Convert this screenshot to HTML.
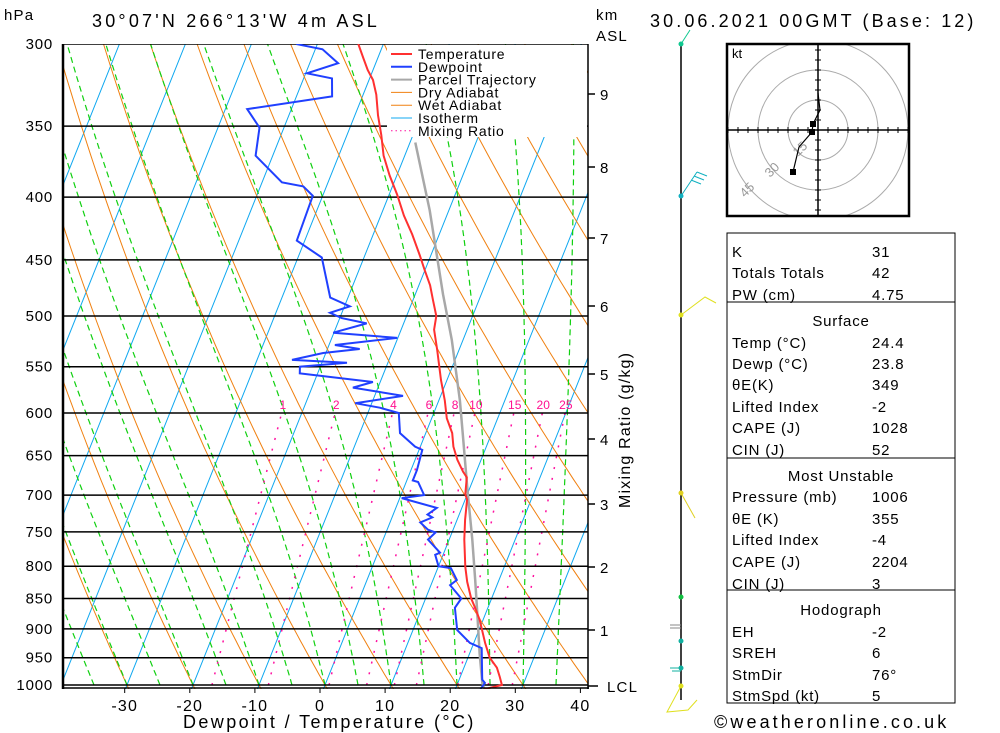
<!DOCTYPE html>
<html><head><meta charset="utf-8"><style>
body{margin:0;background:#fff;}
svg{display:block;font-family:"Liberation Sans",sans-serif;}
.t{font-size:15px;letter-spacing:0.8px;fill:#000;}
.h{font-size:18px;letter-spacing:1.2px;fill:#000;}
</style></head><body>
<svg id="chart" width="1000" height="733" viewBox="0 0 1000 733">
<defs><clipPath id="plotclip"><rect x="63" y="44" width="525" height="645"/></clipPath>
<clipPath id="hodoclip"><rect x="727" y="44" width="182" height="172"/></clipPath></defs>
<g id="bg" clip-path="url(#plotclip)"></g>
<g id="series" clip-path="url(#plotclip)"></g>
<g id="axes"></g>
<text class="h" x="4" y="20" style="font-size:15px">hPa</text>
<text class="h" x="92" y="27" style="letter-spacing:3.2px">30°07'N 266°13'W 4m ASL</text>
<text class="h" x="596" y="20" style="font-size:15px">km</text>
<text class="h" x="596" y="41" style="font-size:15px">ASL</text>
<text class="h" x="650" y="27" style="letter-spacing:3.1px">30.06.2021 00GMT (Base: 12)</text>
<text class="h" x="183" y="728" style="letter-spacing:2.4px">Dewpoint / Temperature (°C)</text>
<text class="h" x="714" y="728" style="letter-spacing:3.1px">©weatheronline.co.uk</text>
<text class="h" transform="translate(630,508) rotate(-90)" style="font-size:16px">Mixing Ratio (g/kg)</text>
<g id="legend">
<rect x="387" y="45" width="200" height="92" fill="#fff"/>
</g>
<g id="winds"></g>
<g id="hodo">
<rect x="727" y="44" width="182" height="172" fill="#fff"/>
<g id="hodoin" clip-path="url(#hodoclip)"></g>
<rect x="727" y="44" width="182" height="172" fill="none" stroke="#000" stroke-width="2.5"/>
<text x="732" y="58" style="font-size:13px">kt</text>
</g>
<g id="table"></g>
</svg>
<script>
const tempP=[1008,1000,985,968,950,924,885,864,850,824,801,761,733,706,699,677,670,655,639,623,606,586,564,533,513,500,485,472,459,446,429,414,398,384,370,356,343,330,321,315,308,300];
const tempT=[24.4,26.8,26.0,25.0,23.3,21.7,19.5,18.0,16.9,15.3,14.1,12.3,11.2,10.3,9.7,8.9,8.0,6.4,5.0,4.0,2.3,0.9,-0.9,-3.3,-5.0,-5.5,-7.0,-8.3,-10.0,-11.7,-14.1,-16.5,-18.8,-21.1,-23.2,-24.8,-26.5,-28.0,-29.4,-30.8,-32.2,-33.8];
const dewP=[1008,996,990,933,924,902,865,850,829,821,803,800,783,780,761,751,747,737,730,726,717,704,700,683,681,668,643,639,623,600,594,589,581,572,566,557,550,546,543,536,532,528,521,516,507,502,497,491,483,448,434,399,392,389,370,351,339,331,320,317,311,303,300];
const dewT=[23.8,24.1,23.5,21.5,19.4,16.7,15.0,15.4,12.9,13.6,12.0,10.0,8.8,9.4,6.8,7.5,6.2,4.6,6.1,5.2,6.2,0.3,3.5,1.8,0.9,0.9,0.5,-0.8,-3.9,-5.3,-8.5,-12.5,-5.7,-13.8,-11.1,-22.7,-23.1,-16.2,-24.7,-20.4,-15.1,-19.1,-10.1,-20.1,-15.6,-19.7,-21.8,-19.2,-22.7,-26.4,-31.2,-31.5,-33.5,-37.0,-42.6,-43.7,-46.7,-34.6,-35.7,-39.8,-35.7,-38.9,-43.2];
const parcelP=[1008,996,942,885,821,761,694,623,586,523,480,410,361];
const parcelT=[24.4,23.7,21.5,19.2,16.4,13.5,9.8,5.6,3.2,-1.7,-5.8,-12.9,-19.2];
const pressureTicks=[300,350,400,450,500,550,600,650,700,750,800,850,900,950,1000];
const tempTicks=[-30,-20,-10,0,10,20,30,40];
const kmTicks=[1,2,3,4,5,6,7,8,9];
const kmY=[630,567,504,439,374,306,238,167,94];
const mixRatios=[1,2,4,6,8,10,15,20,25];

const NS="http://www.w3.org/2000/svg";
const Y=p=>44+Math.log(p/300)/Math.log(1000/300)*641;
const X=(T,p)=>325+6.6*T+0.4*(685-Y(p));
function el(tag,attrs,parent){const e=document.createElementNS(NS,tag);for(const k in attrs)e.setAttribute(k,attrs[k]);parent.appendChild(e);return e;}
function pathFrom(ps,ts){return ps.map((p,i)=>(i?'L':'M')+X(ts[i],p).toFixed(1)+','+Y(p).toFixed(1)).join('');}
const bg=document.getElementById('bg'),ser=document.getElementById('series'),ax=document.getElementById('axes');

for(let T=-130;T<=40;T+=10){const l=el('line',{x1:X(T,1050),y1:Y(1050),x2:X(T,290),y2:Y(290),stroke:'#10a8f0','stroke-width':1},bg);

}
for(let th=-60;th<=220;th+=10){let ps=[],ts=[];for(let p=1050;p>=290;p-=10){ps.push(p);ts.push((th+273.15)*Math.pow(p/1000,0.2857)-273.15);}
const e=el('path',{d:pathFrom(ps,ts),fill:'none',stroke:'#f08010','stroke-width':1},bg);

}
function rs(T,p){const es=6.112*Math.exp(17.67*T/(T+243.5));return 0.622*es/(p-es);}
for(let T0=-60;T0<=45;T0+=5){let ps=[1000],ts=[T0],T=T0;
 for(let p=1000;p>290;p-=5){const Tk=T+273.15,r=rs(T,p);const g=(287*Tk+2.5e6*r)/(1004+2.5e6*2.5e6*r*0.622/(287*Tk*Tk));T+=g*(-5)/p;ps.push(p-5);ts.push(T);}
 const e=el('path',{d:pathFrom(ps,ts),fill:'none',stroke:'#10d010','stroke-width':1.2,'stroke-dasharray':'6,4'},bg);
 
 }
function tdFromW(w,p){const e=w*p/(622+w);const l=Math.log(e/6.112);return 243.5*l/(17.67-l);}
mixRatios.forEach(w=>{
 const e=el('line',{x1:X(tdFromW(w,1000),1000),y1:Y(1000),x2:X(tdFromW(w,600),600),y2:Y(600),stroke:'#ff10a0','stroke-width':1.5,'stroke-dasharray':'2,9'},bg);
 
 
 const t=el('text',{x:X(tdFromW(w,595),595),y:409,'text-anchor':'middle',fill:'#ff1090','font-size':'12px'},bg);t.textContent=w;
 
 });
pressureTicks.forEach(p=>{const l=el('line',{x1:63,y1:Y(p),x2:588,y2:Y(p),stroke:'#000','stroke-width':1.5},bg);
 
 
 const t=el('text',{x:53,y:Y(p)+5,'text-anchor':'end',class:'t'},ax);t.textContent=p;
 
 });
const parcel=el('path',{d:pathFrom(parcelP,parcelT),fill:'none',stroke:'#a8a8a8','stroke-width':2.5},ser);


const dew=el('path',{d:pathFrom(dewP,dewT),fill:'none',stroke:'#2040ff','stroke-width':2},ser);


const tmp=el('path',{d:pathFrom(tempP,tempT),fill:'none',stroke:'#ff3030','stroke-width':2},ser);


el('line',{x1:63,y1:44,x2:63,y2:689,stroke:'#000','stroke-width':2.5},ax);
el('line',{x1:62,y1:688,x2:589,y2:688,stroke:'#000','stroke-width':1.5},ax);
el('line',{x1:588,y1:44,x2:588,y2:689,stroke:'#000','stroke-width':1.5},ax);
tempTicks.forEach(T=>{const x=320+6.51*T;el('line',{x1:x,y1:688,x2:x,y2:693,stroke:'#000'},ax);
 const t=el('text',{x:x,y:711,'text-anchor':'middle',class:'h',style:'font-size:16px'},ax);t.textContent=T;
 
 });
kmTicks.forEach((k,i)=>{el('line',{x1:588,y1:kmY[i],x2:595,y2:kmY[i],stroke:'#000','stroke-width':1.5},ax);
 const t=el('text',{x:600,y:kmY[i]+6,class:'h',style:'font-size:15px'},ax);t.textContent=k;
 
 });
el('line',{x1:588,y1:686,x2:598,y2:686,stroke:'#000','stroke-width':1.5},ax);
{const t=el('text',{x:607,y:692,class:'h',style:'font-size:15px'},ax);t.textContent='LCL';
 
 }
const lg=document.getElementById('legend');
const legNames=['Temperature','Dewpoint','Parcel Trajectory','Dry Adiabat','Wet Adiabat','Isotherm','Mixing Ratio'];
const legCols=['#ff3030','#2040ff','#a8a8a8','#f08010','#f08010','#10a8f0','#ff10a0'];
legNames.forEach((n,i)=>{const y=54+i*12.8;
 const l=el('line',{x1:391,y1:y,x2:412,y2:y,stroke:legCols[i],'stroke-width':i<3?2:1,'stroke-dasharray':i==6?'1.5,3':'none'},lg);
 
 
 const t=el('text',{x:418,y:y+5,class:'t',style:'font-size:14px'},lg);t.textContent=n;
 
 });
const wd=document.getElementById('winds');
el('line',{x1:681,y1:44,x2:681,y2:700,stroke:'#000','stroke-width':1.5},wd);
[[44,'#10c890'],[196,'#10b0c0'],[315,'#e0e020'],[493,'#e0d020'],[597,'#10c040'],[641,'#10b0a0'],[668,'#10b0a0'],[686,'#e0e020']].forEach(d=>{
 el('circle',{cx:681,cy:d[0],r:2.5,fill:d[1]},wd);});
el('path',{d:'M681,44 L690,30',stroke:'#10c890',fill:'none'},wd);
el('path',{d:'M681,196 L697,172 M697,172 L707,176 M694,176 L704,180 M691,180 L701,184',stroke:'#10b0c0',fill:'none'},wd);
el('path',{d:'M681,315 L705,297 L716,303',stroke:'#e0e020',fill:'none'},wd);
el('path',{d:'M681,493 L695,518',stroke:'#e0d020',fill:'none'},wd);
el('path',{d:'M681,625 L670,625 M681,628 L670,628',stroke:'#888',fill:'none'},wd);
el('path',{d:'M681,668 L670,668 M681,671 L672,671',stroke:'#10b0a0',fill:'none'},wd);
el('path',{d:'M681,686 L667,712 L688,710 L697,700',stroke:'#e0e020',fill:'none'},wd);
const hd=document.getElementById('hodoin');
const cx=818,cy=130;
[30,60,90].forEach(r=>el('circle',{cx:cx,cy:cy,r:r,fill:'none',stroke:'#aaa','stroke-width':1},hd));
el('line',{x1:727,y1:cy,x2:909,y2:cy,stroke:'#000','stroke-width':1.5},hd);
el('line',{x1:cx,y1:44,x2:cx,y2:216,stroke:'#000','stroke-width':1.5},hd);
for(let i=-9;i<=9;i++){if(!i)continue;el('line',{x1:cx+i*10,y1:cy-3,x2:cx+i*10,y2:cy+3,stroke:'#000'},hd);el('line',{x1:cx-3,y1:cy+i*10,x2:cx+3,y2:cy+i*10,stroke:'#000'},hd);}
[['15',798,157],['30',770,178],['45',745,198]].forEach(a=>{const t=el('text',{x:a[1],y:a[2],fill:'#999','font-size':'13px',transform:'rotate(-45 '+a[1]+' '+a[2]+')'},hd);t.textContent=a[0];});
el('path',{d:'M818,93 L820,110 L813,124 L812,132 L799,147 L793,172',fill:'none',stroke:'#000','stroke-width':1.2},hd);
[[813,124],[812,132],[793,172]].forEach(p=>el('rect',{x:p[0]-3,y:p[1]-3,width:6,height:6,fill:'#000'},hd));
const tb=document.getElementById('table');
[[233,302],[302,458],[458,590],[590,703]].forEach(b=>el('rect',{x:727,y:b[0],width:228,height:b[1]-b[0],fill:'none',stroke:'#000','stroke-width':1},tb));
const rows=[['K','31',252],['Totals Totals','42',273],['PW (cm)','4.75',295],['#Surface','',321],['Temp (°C)','24.4',343],['Dewp (°C)','23.8',364],['θE(K)','349',385],['Lifted Index','-2',407],['CAPE (J)','1028',428],['CIN (J)','52',450],['#Most Unstable','',476],['Pressure (mb)','1006',497],['θE (K)','355',519],['Lifted Index','-4',540],['CAPE (J)','2204',562],['CIN (J)','3',584],['#Hodograph','',610],['EH','-2',632],['SREH','6',653],['StmDir','76°',675],['StmSpd (kt)','5',696]];
rows.forEach(r=>{
 if(r[0][0]=='#'){const t=el('text',{x:841,y:r[2]+5,'text-anchor':'middle',class:'t'},tb);t.textContent=r[0].slice(1);
  
  return;}
 const a=el('text',{x:732,y:r[2]+5,class:'t'},tb);a.textContent=r[0];
 
 
 const b=el('text',{x:872,y:r[2]+5,class:'t'},tb);b.textContent=r[1];
 
 });
</script>
</body></html>
